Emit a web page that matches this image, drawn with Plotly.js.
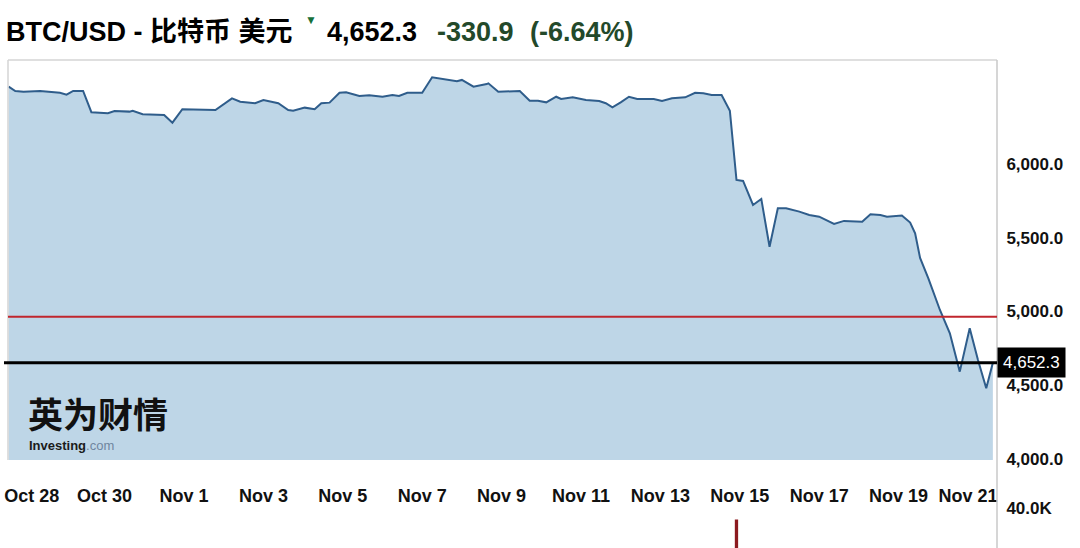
<!DOCTYPE html>
<html>
<head>
<meta charset="utf-8">
<script src="https://cdn.plot.ly/plotly-3.0.1.min.js"></script>
<style>
  html, body { margin: 0; padding: 0; background: #fff; }
  #chart { width: 1080px; height: 548px; }
</style>
</head>
<body>
<div id="chart"></div>
<script>
// BTC/USD hourly closes
const times = [
  '2018-10-27 14:00', '2018-10-27 18:00', '2018-10-27 23:00', '2018-10-28 09:00', '2018-10-28 21:00',
  '2018-10-29 01:00', '2018-10-29 05:00', '2018-10-29 11:00', '2018-10-29 16:00', '2018-10-30 02:00',
  '2018-10-30 06:00', '2018-10-30 15:00', '2018-10-30 17:00', '2018-10-30 23:00', '2018-10-31 12:00',
  '2018-10-31 17:00', '2018-10-31 23:00', '2018-11-01 19:00', '2018-11-02 05:00', '2018-11-02 10:00',
  '2018-11-02 19:00', '2018-11-03 00:00', '2018-11-03 09:00', '2018-11-03 15:00', '2018-11-03 18:00',
  '2018-11-04 01:00', '2018-11-04 07:00', '2018-11-04 11:00', '2018-11-04 16:00', '2018-11-04 22:00',
  '2018-11-05 02:00', '2018-11-05 10:00', '2018-11-05 16:00', '2018-11-06 00:00', '2018-11-06 06:00',
  '2018-11-06 10:00', '2018-11-06 15:00', '2018-11-07 00:00', '2018-11-07 06:00', '2018-11-07 13:00',
  '2018-11-07 21:00', '2018-11-08 00:00', '2018-11-08 07:00', '2018-11-08 15:00', '2018-11-08 16:00',
  '2018-11-08 22:00', '2018-11-09 11:00', '2018-11-09 17:00', '2018-11-09 22:00', '2018-11-10 03:00',
  '2018-11-10 09:00', '2018-11-10 12:00', '2018-11-10 19:00', '2018-11-11 03:00', '2018-11-11 11:00',
  '2018-11-11 15:00', '2018-11-11 19:00', '2018-11-12 00:00', '2018-11-12 05:00', '2018-11-12 10:00',
  '2018-11-12 20:00', '2018-11-13 01:00', '2018-11-13 07:00', '2018-11-13 15:00', '2018-11-13 21:00',
  '2018-11-14 02:00', '2018-11-14 07:00', '2018-11-14 13:00', '2018-11-14 18:00', '2018-11-14 22:00',
  '2018-11-15 02:00', '2018-11-15 08:00', '2018-11-15 13:00', '2018-11-15 18:00', '2018-11-15 23:00',
  '2018-11-16 04:00', '2018-11-16 12:00', '2018-11-16 18:00', '2018-11-17 00:00', '2018-11-17 09:00',
  '2018-11-17 15:00', '2018-11-18 02:00', '2018-11-18 07:00', '2018-11-18 13:00', '2018-11-18 17:00',
  '2018-11-19 02:00', '2018-11-19 07:00', '2018-11-19 10:00', '2018-11-19 13:00', '2018-11-19 18:00',
  '2018-11-20 01:00', '2018-11-20 07:00', '2018-11-20 13:00', '2018-11-20 19:00', '2018-11-21 00:00',
  '2018-11-21 05:00', '2018-11-21 09:00'
];
const prices = [
  6524, 6495, 6490, 6495, 6483,
  6470, 6495, 6495, 6351, 6344,
  6359, 6355, 6361, 6337, 6332,
  6280, 6371, 6366, 6445, 6422,
  6412, 6434, 6412, 6366, 6361,
  6382, 6371, 6412, 6416, 6483,
  6486, 6461, 6466, 6456, 6468,
  6461, 6483, 6483, 6588, 6576,
  6561, 6570, 6524, 6542, 6547,
  6490, 6495, 6429, 6429, 6418,
  6456, 6441, 6452, 6434, 6427,
  6412, 6384, 6418, 6456, 6441,
  6441, 6427, 6445, 6452, 6483,
  6479, 6468, 6468, 6361, 5892,
  5885, 5722, 5763, 5439, 5700,
  5700, 5677, 5654, 5643, 5593,
  5614, 5609, 5659, 5654, 5643,
  5651, 5603, 5530, 5363, 5225,
  5010, 4852, 4592, 4886, 4671,
  4479, 4652.3
];

// volume pane (only one bar shows in the crop)
const volTimes = ['2018-11-14 22:00'];
const volValues = [28500];

const lastPrice = 4652.3;
const refLine = 4965;

// the end labels sit nudged inwards so they stay on the page, like the original
const xTickVals = ['2018-10-28 04:00', '2018-10-30', '2018-11-01', '2018-11-03', '2018-11-05', '2018-11-07',
  '2018-11-09', '2018-11-11', '2018-11-13', '2018-11-15', '2018-11-17', '2018-11-19', '2018-11-20 18:00'];
const xTickText = ['Oct 28', 'Oct 30', 'Nov 1', 'Nov 3', 'Nov 5', 'Nov 7',
  'Nov 9', 'Nov 11', 'Nov 13', 'Nov 15', 'Nov 17', 'Nov 19', 'Nov 21'];
const yTickVals = [4000, 4500, 5000, 5500, 6000];
const yTickText = ['4,000.0', '4,500.0', '5,000.0', '5,500.0', '6,000.0'];

// page pixel -> paper coords (margins l=8, r=83, t=60, b=0)
const W = 1080, H = 548, ML = 8, MR = 83, MT = 60;
const px = (x) => (x - ML) / (W - ML - MR);
const py = (y) => (H - y) / (H - MT);

const FONT = 'Liberation Sans, Arial, Noto Sans CJK SC, sans-serif';
const CJK = 'Noto Sans CJK SC, Liberation Sans, sans-serif';

const priceTrace = {
  x: times,
  y: prices,
  type: 'scatter',
  mode: 'lines',
  fill: 'tozeroy',
  fillcolor: '#bed6e7',
  line: { color: '#2f5d8b', width: 2 },
  xaxis: 'x',
  yaxis: 'y',
  hoverinfo: 'skip'
};

const volTrace = {
  x: volTimes,
  y: volValues,
  type: 'bar',
  width: 2 * 3600 * 1000,
  marker: { color: '#8c1a1f' },
  xaxis: 'x2',
  yaxis: 'y2',
  hoverinfo: 'skip'
};

const layout = {
  width: W,
  height: H,
  margin: { l: ML, r: MR, t: MT, b: 0 },
  paper_bgcolor: '#ffffff',
  plot_bgcolor: '#ffffff',
  showlegend: false,
  font: { family: FONT, color: '#000' },
  xaxis: {
    type: 'date',
    range: ['2018-10-27 13:36', '2018-11-21 11:30'],
    tickmode: 'array',
    tickvals: xTickVals,
    ticktext: xTickText,
    tickfont: { family: FONT, size: 18, weight: 'bold', color: '#111' },
    ticks: 'outside',
    ticklen: 19,
    tickcolor: 'rgba(0,0,0,0)',
    showgrid: false,
    zeroline: false,
    showline: false,
    anchor: 'y',
    fixedrange: true
  },
  yaxis: {
    domain: [py(460), 1],
    range: [3993, 6705],
    side: 'right',
    tickmode: 'array',
    tickvals: yTickVals,
    ticktext: yTickText,
    tickfont: { family: FONT, size: 17, weight: 'bold', color: '#111' },
    ticks: 'outside',
    ticklen: 5,
    tickcolor: 'rgba(0,0,0,0)',
    showgrid: false,
    zeroline: false,
    showline: false,
    fixedrange: true
  },
  xaxis2: {
    matches: 'x',
    anchor: 'y2',
    showticklabels: false,
    showgrid: false,
    zeroline: false,
    showline: false
  },
  yaxis2: {
    domain: [0, py(499)],
    range: [0, 49000],
    side: 'right',
    anchor: 'x2',
    tickmode: 'array',
    tickvals: [40000],
    ticktext: ['40.0K'],
    tickfont: { family: FONT, size: 17, weight: 'bold', color: '#111' },
    ticks: 'outside',
    ticklen: 5,
    tickcolor: 'rgba(0,0,0,0)',
    showgrid: false,
    zeroline: false,
    showline: false
  },
  shapes: [
    // frame
    { type: 'line', xref: 'paper', yref: 'paper', x0: 0, x1: 1, y0: 1, y1: 1,
      line: { color: '#d4d4d4', width: 1.5 } },
    { type: 'line', xref: 'paper', yref: 'paper', x0: 0, x1: 0, y0: py(460), y1: 1,
      line: { color: '#d4d4d4', width: 1.5 } },
    { type: 'line', xref: 'paper', yref: 'paper', x0: 1, x1: 1, y0: 0, y1: 1,
      line: { color: '#c8c8c8', width: 1.5 } },
    // previous close
    { type: 'line', xref: 'paper', yref: 'y', x0: 0, x1: 1, y0: refLine, y1: refLine,
      line: { color: '#c0262e', width: 2 } },
    // last price
    { type: 'line', xref: 'paper', yref: 'y', x0: px(4), x1: 1, y0: lastPrice, y1: lastPrice,
      line: { color: '#000', width: 3 } }
  ],
  annotations: [
    { xref: 'paper', yref: 'paper', x: px(4), y: py(32), xanchor: 'left', yanchor: 'middle',
      text: '<b>BTC/USD - 比特币 美元</b>', showarrow: false,
      font: { family: FONT, size: 27, color: '#000' } },
    { xref: 'paper', yref: 'paper', x: px(311), y: py(20), xanchor: 'center', yanchor: 'middle',
      text: '▼', showarrow: false, font: { family: FONT, size: 12, color: '#17703a' } },
    { xref: 'paper', yref: 'paper', x: px(325), y: py(32), xanchor: 'left', yanchor: 'middle',
      text: '<b>4,652.3</b>', showarrow: false, font: { family: FONT, size: 27, color: '#000' } },
    { xref: 'paper', yref: 'paper', x: px(435), y: py(32), xanchor: 'left', yanchor: 'middle',
      text: '<b>-330.9</b>', showarrow: false, font: { family: FONT, size: 27, color: '#23492a' } },
    { xref: 'paper', yref: 'paper', x: px(528), y: py(32), xanchor: 'left', yanchor: 'middle',
      text: '<b>(-6.64%)</b>', showarrow: false, font: { family: FONT, size: 27, color: '#23492a' } },
    // last price tag
    { xref: 'paper', yref: 'y', x: 1, y: lastPrice, xanchor: 'left', yanchor: 'middle',
      text: '4,652.3', showarrow: false, bgcolor: '#000', borderpad: 5,
      font: { family: FONT, size: 17, color: '#fff' } },
    // watermark
    { xref: 'paper', yref: 'paper', x: px(26), y: py(412), xanchor: 'left', yanchor: 'middle',
      text: '<b>英为财情</b>', showarrow: false,
      font: { family: CJK, size: 35, weight: 900, color: '#111' } },
    { xref: 'paper', yref: 'paper', x: px(27), y: py(445), xanchor: 'left', yanchor: 'middle',
      text: '<b>Investing</b><span style="color:#6f86a0">.com</span>', showarrow: false,
      font: { family: FONT, size: 13, color: '#1b1b1b' } }
  ]
};

Plotly.newPlot('chart', [priceTrace, volTrace], layout, { displayModeBar: false, staticPlot: true });
</script>
</body>
</html>
